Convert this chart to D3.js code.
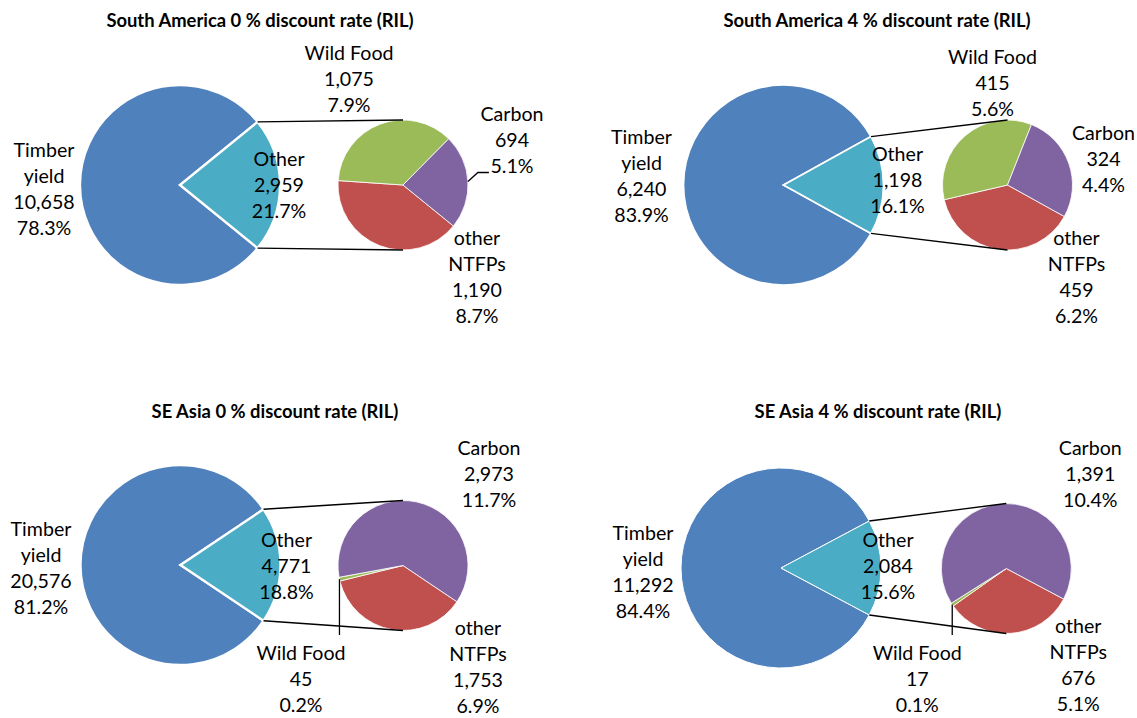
<!DOCTYPE html>
<html>
<head>
<meta charset="utf-8">
<script src="https://cdn.jsdelivr.net/npm/d3@7"></script>
<style>
  html, body { margin: 0; padding: 0; background: #fff; }
  svg { display: block; }
  text { font-family: Lato, "Open Sans", sans-serif; fill: #000; }
</style>
</head>
<body>
<svg id="chart" width="1137" height="718"></svg>
<script>
// ---------- data ----------
const panelTitles = [
  "South America 0 % discount rate (RIL)",
  "South America 4 % discount rate (RIL)",
  "SE Asia 0 % discount rate (RIL)",
  "SE Asia 4 % discount rate (RIL)"
];
const mainCategories = ["Timber yield", "Other"];
const subCategories = ["other NTFPs", "Wild Food", "Carbon"];
const timberValues   = [10658, 6240, 20576, 11292];
const wildFoodValues = [1075, 415, 45, 17];
const carbonValues   = [694, 324, 2973, 1391];
const otherNtfpValues = [1190, 459, 1753, 676];

// ---------- styling / layout ----------
const colors = {
  "Timber yield": "#4F81BD",
  "Other": "#4BACC6",
  "other NTFPs": "#C0504D",
  "Wild Food": "#9BBB59",
  "Carbon": "#8064A2"
};
const labelLines = {
  "Timber yield": ["Timber", "yield"],
  "Other": ["Other"],
  "other NTFPs": ["other", "NTFPs"],
  "Wild Food": ["Wild Food"],
  "Carbon": ["Carbon"]
};
const R1 = 100, R2 = 65, LH = 26;
const LABEL_SIZE = 19.6, TITLE_SIZE = 18.4;
const layout = [
  { title: [260, 22], main: [180, 185], sub: [403, 185], sep: 2.3,
    lab: { "Timber yield": [-136, -33], "Other": [99, -24],
           "Wild Food": [-54, -130], "Carbon": [109, -69], "other NTFPs": [74, 55] },
    leader: { cat: "Carbon", type: "elbow" } },
  { title: [877, 22], main: [783.5, 185], sub: [1007.5, 185], sep: 1.7,
    lab: { "Timber yield": [-142, -46], "Other": [114, -29],
           "Wild Food": [-15, -126], "Carbon": [96, -50], "other NTFPs": [69, 55] },
    leader: null },
  { title: [275, 413], main: [180.5, 565], sub: [403, 565.5], sep: 2.3,
    lab: { "Timber yield": [-139.5, -34], "Other": [106, -23],
           "Wild Food": [-102, 90], "Carbon": [86, -115], "other NTFPs": [75, 65] },
    leader: { cat: "Wild Food", type: "down", y: 635 } },
  { title: [878, 413], main: [781, 568], sub: [1006.3, 568.5], sep: 1,
    lab: { "Timber yield": [-138, -33], "Other": [107, -26],
           "Wild Food": [-89, 87], "Carbon": [84, -118], "other NTFPs": [72, 60] },
    leader: { cat: "Wild Food", type: "down", y: 635 } }
];

const svg = d3.select("#chart");
const fmtNum = d3.format(",");
const fmtPct = d3.format(".1%");
const pt = (c, r, a) => [c[0] + r * Math.sin(a), c[1] - r * Math.cos(a)];

function drawLabel(g, x, y, lines) {
  const t = g.append("text")
    .attr("text-anchor", "middle")
    .attr("font-size", LABEL_SIZE);
  lines.forEach((s, i) => {
    t.append("tspan").attr("x", x).attr("y", y + i * LH)
      .attr("dominant-baseline", "middle").text(s);
  });
}

panelTitles.forEach((title, p) => {
  const L = layout[p];
  const g = svg.append("g");
  const otherTotal = wildFoodValues[p] + carbonValues[p] + otherNtfpValues[p];
  const total = timberValues[p] + otherTotal;
  const mainData = [
    { cat: mainCategories[0], value: timberValues[p] },
    { cat: mainCategories[1], value: otherTotal }
  ];
  const subData = [
    { cat: subCategories[0], value: otherNtfpValues[p] },
    { cat: subCategories[1], value: wildFoodValues[p] },
    { cat: subCategories[2], value: carbonValues[p] }
  ];
  const half = Math.PI * otherTotal / total;
  const start = Math.PI / 2 + half;

  const mainArcs = d3.pie().sort(null).value(d => d.value)
    .startAngle(start).endAngle(start + 2 * Math.PI)(mainData);
  const subArcs = d3.pie().sort(null).value(d => d.value)
    .startAngle(start).endAngle(start + 2 * Math.PI)(subData);

  const arc1 = d3.arc().innerRadius(0).outerRadius(R1);
  const arc2 = d3.arc().innerRadius(0).outerRadius(R2);

  // title
  g.append("text").attr("x", L.title[0]).attr("y", L.title[1])
    .attr("text-anchor", "middle").attr("dominant-baseline", "middle")
    .attr("font-size", TITLE_SIZE).attr("font-weight", "bold").text(title);

  // main pie
  g.append("g").attr("transform", `translate(${L.main})`)
    .selectAll("path").data(mainArcs).join("path")
    .attr("d", arc1)
    .attr("fill", d => colors[d.data.cat])
    .attr("stroke", "#fff").attr("stroke-width", L.sep)
    .attr("stroke-linejoin", "miter");

  // secondary pie
  g.append("g").attr("transform", `translate(${L.sub})`)
    .selectAll("path").data(subArcs).join("path")
    .attr("d", arc2)
    .attr("fill", d => colors[d.data.cat])
    .attr("stroke", "#fff").attr("stroke-width", 0.8);

  // connector lines
  const otherArc = mainArcs[1];
  const a = pt(L.main, R1, otherArc.startAngle);
  const b = pt(L.main, R1, otherArc.endAngle);
  const line = d3.line();
  g.append("path").attr("d", line([a, [L.sub[0], L.sub[1] - R2]]))
    .attr("stroke", "#000").attr("stroke-width", 1.3).attr("fill", "none");
  g.append("path").attr("d", line([b, [L.sub[0], L.sub[1] + R2]]))
    .attr("stroke", "#000").attr("stroke-width", 1.3).attr("fill", "none");

  // leader line
  if (L.leader) {
    const s = subArcs.find(d => d.data.cat === L.leader.cat);
    const mid = (s.startAngle + s.endAngle) / 2;
    const p0 = pt(L.sub, R2, mid);
    let pts;
    if (L.leader.type === "down") pts = [p0, [p0[0], L.leader.y]];
    else pts = [p0, [p0[0] + 10, p0[1] - 9], [p0[0] + 21, p0[1] - 9]];
    g.append("path").attr("d", line(pts))
      .attr("stroke", "#000").attr("stroke-width", 1.3).attr("fill", "none");
  }

  // labels
  mainArcs.forEach(d => {
    const o = L.lab[d.data.cat];
    drawLabel(g, L.main[0] + o[0], L.main[1] + o[1],
      labelLines[d.data.cat].concat([fmtNum(d.data.value), fmtPct(d.data.value / total)]));
  });
  subArcs.forEach(d => {
    const o = L.lab[d.data.cat];
    drawLabel(g, L.sub[0] + o[0], L.sub[1] + o[1],
      labelLines[d.data.cat].concat([fmtNum(d.data.value), fmtPct(d.data.value / total)]));
  });
});
</script>
</body>
</html>
